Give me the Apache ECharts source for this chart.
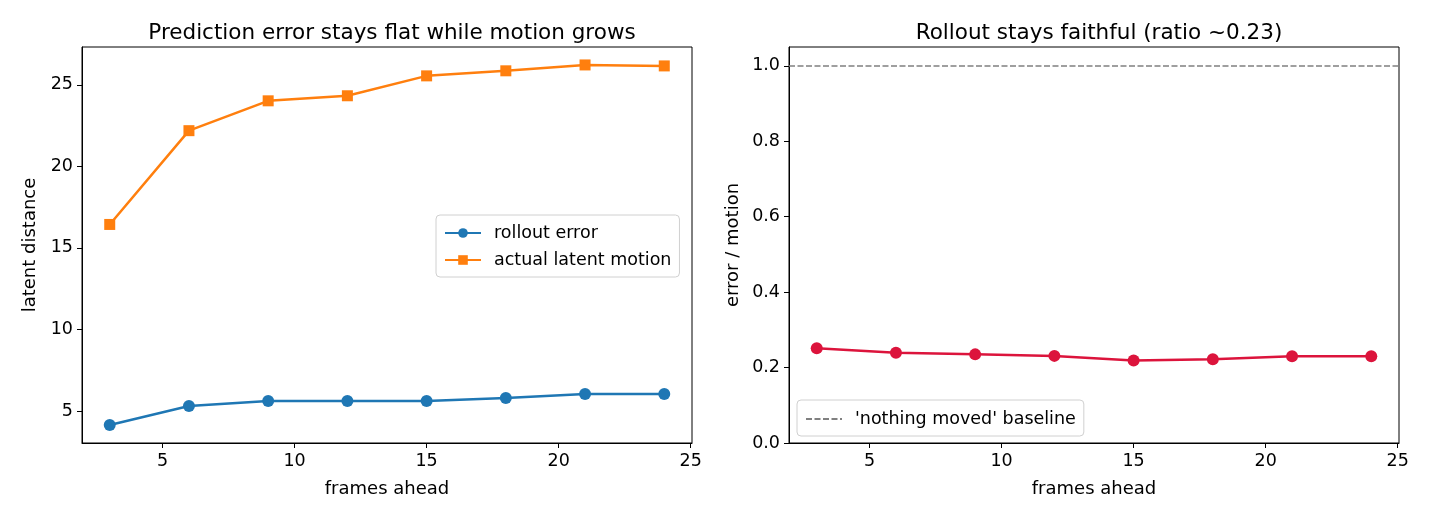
<!DOCTYPE html>
<html>
<head>
<meta charset="utf-8">
<script src="https://cdn.jsdelivr.net/npm/echarts@6/dist/echarts.min.js"></script>
<style>
  html, body { margin: 0; padding: 0; background: #fff; }
  #chart { width: 1430px; height: 520px; }
</style>
</head>
<body>
<div id="chart"></div>
<script>
// frames ahead
const frames = [3, 6, 9, 12, 15, 18, 21, 24];
// latent distances
const rolloutError = [4.14, 5.31, 5.61, 5.61, 5.61, 5.80, 6.04, 6.04];
const actualMotion = [16.44, 22.19, 24.02, 24.33, 25.55, 25.86, 26.22, 26.16];
// error / motion
const ratio = [0.251, 0.239, 0.235, 0.231, 0.219, 0.222, 0.230, 0.230];
const baselineValue = 1.0;

const xTicks = [5, 10, 15, 20, 25];
const leftYTicks = [5, 10, 15, 20, 25];
const rightYTicks = [0.0, 0.2, 0.4, 0.6, 0.8, 1.0];

const FONT = 'DejaVu Sans';

function pairs(xs, ys) {
    return xs.map((x, i) => [x, ys[i]]);
}

function xAxisOf(gridIndex) {
    return {
        type: 'value',
        gridIndex: gridIndex,
        min: 1.95,
        max: 25.05,
        name: 'frames ahead',
        nameLocation: 'middle',
        nameGap: 37,
        nameTextStyle: { fontFamily: FONT, fontSize: 18, color: '#000' },
        axisLine: { show: true, onZero: false, lineStyle: { color: '#000', width: 1 } },
        axisTick: { show: true, inside: false, length: 5, customValues: xTicks, lineStyle: { color: '#000' } },
        axisLabel: { customValues: xTicks, fontFamily: FONT, fontSize: 17.5, color: '#000', margin: 9 },
        splitLine: { show: false }
    };
}

function yAxisOf(gridIndex, min, max, ticks, name, gap, fmt) {
    return {
        type: 'value',
        gridIndex: gridIndex,
        min: min,
        max: max,
        name: name,
        nameLocation: 'middle',
        nameGap: gap,
        nameRotate: 90,
        nameTextStyle: { fontFamily: FONT, fontSize: 18, color: '#000' },
        axisLine: { show: true, onZero: false, lineStyle: { color: '#000', width: 1 } },
        axisTick: { show: true, inside: false, length: 5, customValues: ticks, lineStyle: { color: '#000' } },
        axisLabel: { customValues: ticks, fontFamily: FONT, fontSize: 17.5, color: '#000', margin: 9, formatter: fmt },
        splitLine: { show: false }
    };
}

const legendText = { fontFamily: FONT, fontSize: 17.5, color: '#000', padding: [0, 0, 0, 8] };

const chart = echarts.init(document.getElementById('chart'));

const option = {
    backgroundColor: '#fff',
    animation: false,
    title: [
        {
            text: 'Prediction error stays flat while motion grows',
            left: 387, top: 17, textAlign: 'center',
            textStyle: { fontFamily: FONT, fontSize: 21.5, fontWeight: 'normal', color: '#000' }
        },
        {
            text: 'Rollout stays faithful (ratio ~0.23)',
            left: 1094, top: 17, textAlign: 'center',
            textStyle: { fontFamily: FONT, fontSize: 21.5, fontWeight: 'normal', color: '#000' }
        }
    ],
    legend: [
        {
            data: ['rollout error', 'actual latent motion'],
            orient: 'vertical',
            left: 436, top: 215,
            itemWidth: 36, itemHeight: 12, itemGap: 9,
            padding: [9, 8, 8, 8],
            borderColor: '#d0d0d0', borderWidth: 1, borderRadius: 4,
            backgroundColor: 'rgba(255,255,255,0.8)',
            textStyle: legendText
        },
        {
            data: [{ name: "'nothing moved' baseline", itemStyle: { opacity: 0 } }],
            orient: 'vertical',
            left: 797, top: 400,
            itemWidth: 36, itemHeight: 12,
            padding: [10, 8, 8, 8],
            borderColor: '#d0d0d0', borderWidth: 1, borderRadius: 4,
            backgroundColor: 'rgba(255,255,255,0.8)',
            textStyle: legendText
        }
    ],
    grid: [
        { left: 82, top: 47, width: 610, height: 396, show: true, borderColor: '#000', borderWidth: 1, backgroundColor: 'transparent' },
        { left: 789, top: 47, width: 610, height: 396, show: true, borderColor: '#000', borderWidth: 1, backgroundColor: 'transparent' }
    ],
    xAxis: [xAxisOf(0), xAxisOf(1)],
    yAxis: [
        yAxisOf(0, 3.04, 27.32, leftYTicks, 'latent distance', 43, v => String(v)),
        yAxisOf(1, 0, 1.05, rightYTicks, 'error / motion', 47, v => v.toFixed(1))
    ],
    series: [
        {
            name: 'rollout error',
            type: 'line',
            xAxisIndex: 0, yAxisIndex: 0,
            data: pairs(frames, rolloutError),
            symbol: 'circle', symbolSize: 12,
            itemStyle: { color: '#1f77b4' },
            lineStyle: { color: '#1f77b4', width: 2.5 }
        },
        {
            name: 'actual latent motion',
            type: 'line',
            xAxisIndex: 0, yAxisIndex: 0,
            data: pairs(frames, actualMotion),
            symbol: 'rect', symbolSize: 11,
            itemStyle: { color: '#ff7f0e' },
            lineStyle: { color: '#ff7f0e', width: 2.5 }
        },
        {
            name: 'ratio',
            type: 'line',
            xAxisIndex: 1, yAxisIndex: 1,
            data: pairs(frames, ratio),
            symbol: 'circle', symbolSize: 12,
            itemStyle: { color: '#dc143c' },
            lineStyle: { color: '#dc143c', width: 2.5 }
        },
        {
            name: "'nothing moved' baseline",
            type: 'line',
            xAxisIndex: 1, yAxisIndex: 1,
            data: [],
            symbol: 'none',
            itemStyle: { color: '#808080' },
            lineStyle: { color: '#808080', width: 1.5, type: [6, 2.5] },
            markLine: {
                silent: true,
                symbol: 'none',
                label: { show: false },
                lineStyle: { color: '#808080', width: 1.5, type: [6, 2.5] },
                data: [{ yAxis: baselineValue }]
            }
        }
    ]
};

chart.setOption(option);
</script>
</body>
</html>
